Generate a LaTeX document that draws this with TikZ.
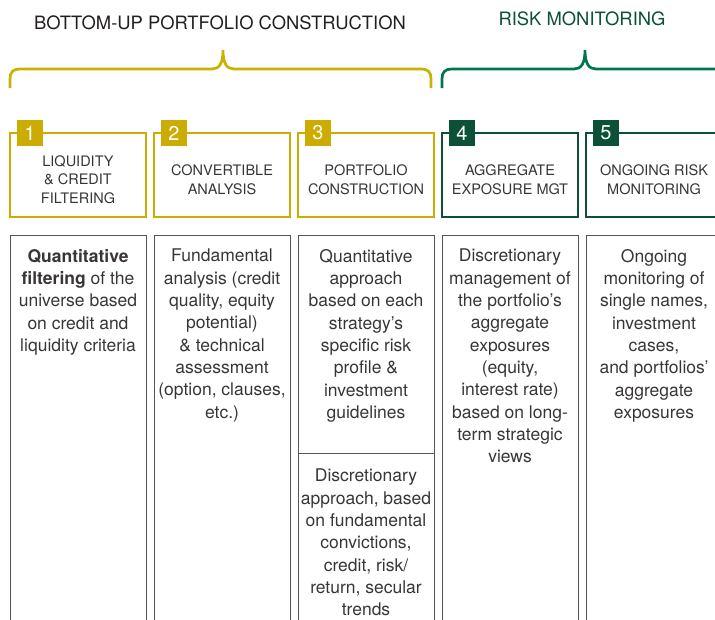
\documentclass[tikz,border=0pt]{standalone}
\usepackage{fontspec}
\setmainfont{TeX Gyre Heros}
\usetikzlibrary{positioning}
\definecolor{ochre}{RGB}{204,172,0}
\definecolor{braceochre}{RGB}{201,179,0}
\definecolor{pine}{RGB}{12,80,53}
\definecolor{bracepine}{RGB}{0,118,77}
\definecolor{ink}{RGB}{35,31,32}
\definecolor{rule}{RGB}{85,85,85}
\begin{document}
\begin{tikzpicture}[
			x=1pt, y=-1pt,
			heading/.style={
				anchor=base,
				inner sep=0,
				font=\fontsize{18.4}{22}\selectfont
			},
			bracket/.style={
				line width=2.7pt
			},
			stage/.style={
				draw,
				line width=1.1pt,
				minimum width=136pt,
				minimum height=84pt,
				inner sep=0,
				outer sep=0
			},
			stagetext/.style={
				align=center,
				inner sep=0,
				text=ink!90,
				font=\fontsize{14.5}{18.5}\selectfont
			},
			badge/.style={
				minimum size=26pt,
				inner sep=0,
				text=white,
				font=\fontsize{20}{20}\selectfont
			},
			body/.style={
				draw=rule,
				line width=0.8pt,
				minimum width=136pt,
				minimum height=420pt,
				inner sep=0,
				outer sep=0
			},
			bodytext/.style={
				align=center,
				inner sep=0,
				text=ink!90,
				font=\fontsize{17.5}{22.3}\selectfont
			}
		]

		\useasboundingbox (0,0) rectangle (715,619);
		\clip (0,0) rectangle (715,619);

		% headings and braces
		\node [heading, text=ink] (bottomup) at (220,29) {BOTTOM-UP PORTFOLIO CONSTRUCTION};
		\node [heading, text=pine] (riskmon) at (582,25) {RISK MONITORING};
		\draw[bracket, braceochre] (10,88) -- (10,79) .. controls (10,72) and (13,69) .. (20,69)
			-- (212,69) .. controls (219,69) and (223,64) .. (223,50)
			.. controls (223,64) and (227,69) .. (234,69)
			-- (421,69) .. controls (428,69) and (431,72) .. (431,79) -- (431,88);
		\draw[bracket, bracepine] (442,88) -- (442,79) .. controls (442,72) and (445,69) .. (452,69)
			-- (574,69) .. controls (581,69) and (585,64) .. (585,50)
			.. controls (585,64) and (589,69) .. (596,69) -- (730,69);

		% stage boxes
		\node [stage, draw=ochre] (h1) at (78,175) {};
		\node [stage, draw=ochre, right=8pt of h1] (h2) {};
		\node [stage, draw=ochre, right=8pt of h2] (h3) {};
		\node [stage, draw=pine, right=8pt of h3] (h4) {};
		\node [stage, draw=pine, right=8pt of h4] (h5) {};

		\foreach \n in {1,2,3}{%
			\node [badge, fill=ochre] (n\n) at ([xshift=20pt]h\n.north west) {\n};
		}
		\foreach \n in {4,5}{%
			\node [badge, fill=pine] (n\n) at ([xshift=20pt]h\n.north west) {\n};
		}

		\node [stagetext] (s1) at ([yshift=-4.5pt]h1.center) {LIQUIDITY\\\& CREDIT\\FILTERING};
		\node [stagetext] (s2) at ([yshift=-4.5pt]h2.center) {CONVERTIBLE\\ANALYSIS};
		\node [stagetext] (s3) at ([yshift=-4.5pt]h3.center) {PORTFOLIO\\CONSTRUCTION};
		\node [stagetext] (s4) at ([yshift=-4.5pt]h4.center) {AGGREGATE\\EXPOSURE MGT};
		\node [stagetext] (s5) at ([yshift=-4.5pt]h5.center) {ONGOING RISK\\MONITORING};

		% description columns
		\node [body, below=18pt of h1] (p1) {};
		\node [body, below=18pt of h2] (p2) {};
		\node [body, below=18pt of h3, minimum height=218pt] (p3) {};
		\node [body, below=0pt of p3, minimum height=200pt] (p3b) {};
		\node [body, below=18pt of h4] (p4) {};
		\node [body, below=18pt of h5] (p5) {};

		\node [bodytext, below=14pt of p1.north] (d1) {\textbf{Quantitative}\\\textbf{filtering} of the\\universe based\\on credit and\\liquidity criteria};
		\node [bodytext, below=14pt of p2.north] (d2) {Fundamental\\analysis (credit\\quality, equity\\potential)\\\& technical\\assessment\\(option, clauses,\\etc.)};
		\node [bodytext, below=14pt of p3.north] (d3) {Quantitative\\approach\\based on each\\strategy’s\\specific risk\\profile \&\\investment\\guidelines};
		\node [bodytext, below=16pt of p3b.north] (d3b) {Discretionary\\approach, based\\on fundamental\\convictions,\\credit, risk/\\return, secular\\trends};
		\node [bodytext, below=14pt of p4.north] (d4) {Discretionary\\management of\\the portfolio’s\\aggregate\\exposures\\(equity,\\interest rate)\\based on long-\\term strategic\\views};
		\node [bodytext, below=14pt of p5.north] (d5) {Ongoing\\monitoring of\\single names,\\investment\\cases,\\and portfolios’\\aggregate\\exposures};

	\end{tikzpicture}
\end{document}
